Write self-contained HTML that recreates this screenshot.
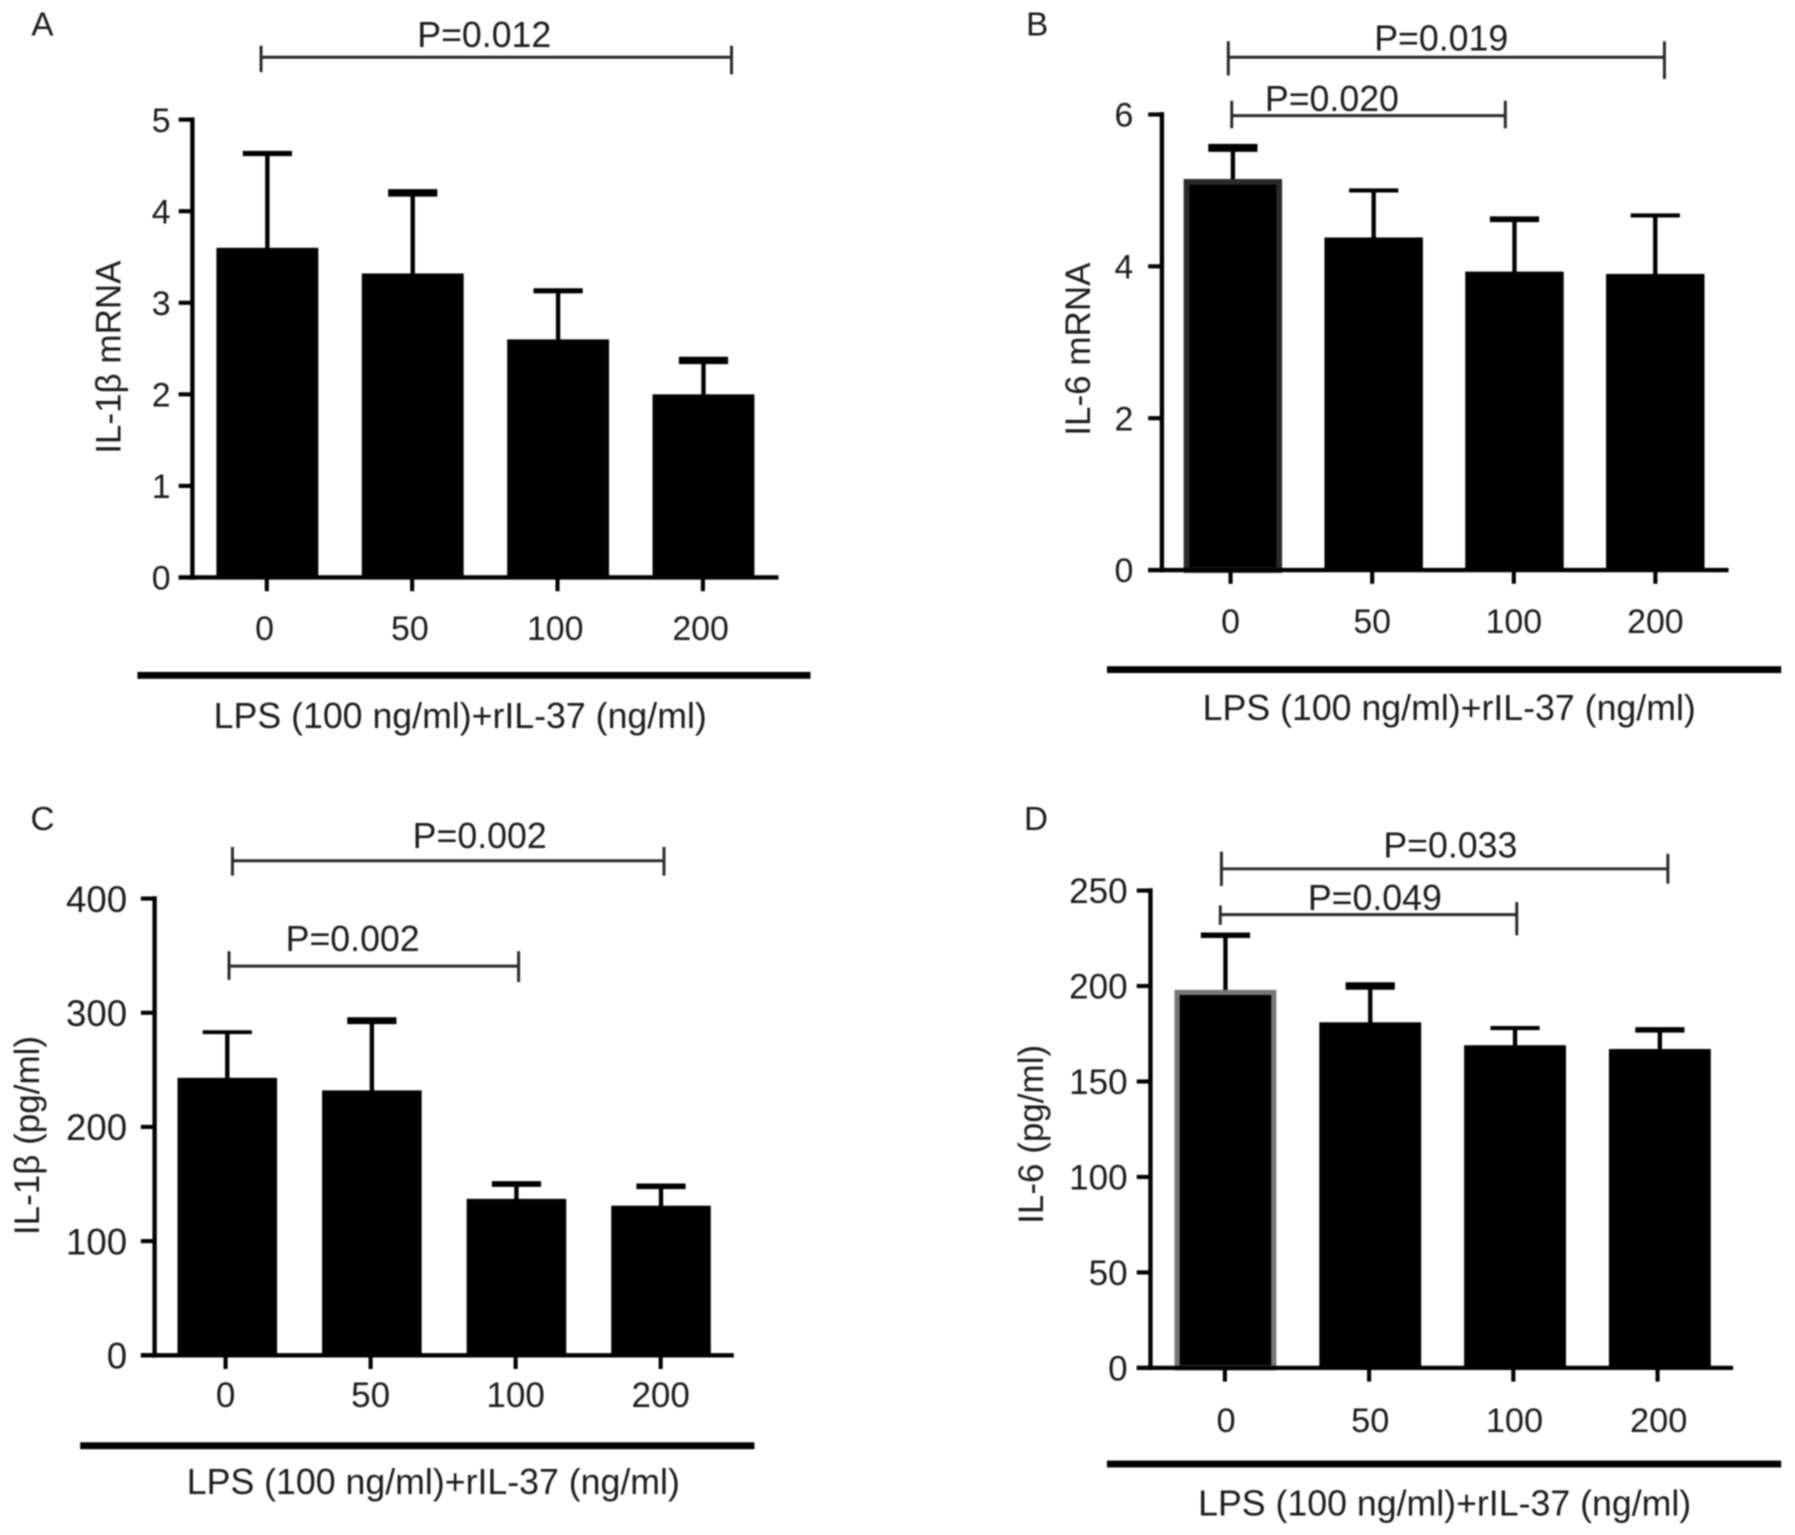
<!DOCTYPE html>
<html lang="en">
<head>
<meta charset="utf-8">
<title>IL-1β and IL-6 expression after LPS and rIL-37 treatment</title>
<style>
html,body{margin:0;padding:0;background:#fff;width:1795px;height:1535px;overflow:hidden}
svg{display:block;filter:blur(.7px)}
text{font-family:"Liberation Sans",sans-serif;fill:#1c1c1c}
.lbl{font-size:31.2px;text-anchor:middle}
.title{font-size:30.6px;text-anchor:middle}
.panel{font-size:29px;text-anchor:middle}
.br{stroke:#2a2a2a;stroke-width:2.6;fill:none}
.rule{fill:#000}
</style>
</head>
<body>
<svg id="figure" xmlns="http://www.w3.org/2000/svg" width="1795" height="1535" viewBox="0 0 1568 1341">
  <rect width="1568" height="1341" fill="#fff"/>

  <g id="panel-a">
    <text class="panel" x="37" y="31">A</text>
    <text class="lbl" x="423" y="41">P=0.012</text>
    <path class="br" d="M228 40V63M228 50H639M639 40V65"/>
    <text class="title" transform="translate(105,312) rotate(-90)">IL-1β mRNA</text>
    <rect class="rule" x="120" y="587" width="588" height="6"/>
    <text class="lbl" x="402" y="636">LPS (100 ng/ml)+rIL-37 (ng/ml)</text>
  </g>

  <g id="panel-b">
    <text class="panel" x="906" y="31">B</text>
    <text class="lbl" x="1259" y="44">P=0.019</text>
    <path class="br" d="M1073 36V66M1073 50H1454M1454 36V69"/>
    <text class="lbl" x="1163.500" y="97">P=0.020</text>
    <path class="br" d="M1076 88V112M1076 101H1315M1315 88V112"/>
    <text class="title" transform="translate(952,305) rotate(-90)">IL-6 mRNA</text>
    <rect class="rule" x="967" y="582" width="589" height="6"/>
    <text class="lbl" x="1266" y="629">LPS (100 ng/ml)+rIL-37 (ng/ml)</text>
  </g>

  <g id="panel-c">
    <text class="panel" x="37" y="725">C</text>
    <text class="lbl" x="419" y="741">P=0.002</text>
    <path class="br" d="M203 740V765M203 752H580M580 740V765"/>
    <text class="lbl" x="308" y="831">P=0.002</text>
    <path class="br" d="M200 831V856M200 844H453M453 831V858"/>
    <text class="title" transform="translate(34,992) rotate(-90)">IL-1β (pg/ml)</text>
    <rect class="rule" x="70" y="1260" width="589" height="6"/>
    <text class="lbl" x="378.500" y="1305">LPS (100 ng/ml)+rIL-37 (ng/ml)</text>
  </g>

  <g id="panel-d">
    <text class="panel" x="905" y="725">D</text>
    <text class="lbl" x="1267" y="749">P=0.033</text>
    <path class="br" d="M1067 744V774M1067 759H1457M1457 746V772"/>
    <text class="lbl" x="1201" y="795">P=0.049</text>
    <path class="br" d="M1066 791V808M1066 799H1325M1325 788V817"/>
    <text class="title" transform="translate(911,991) rotate(-90)">IL-6 (pg/ml)</text>
    <rect class="rule" x="967" y="1276" width="589" height="6"/>
    <text class="lbl" x="1262" y="1324">LPS (100 ng/ml)+rIL-37 (ng/ml)</text>
  </g>
</svg>

<script>
const categories = ["0", "50", "100", "200"];

const valuesA = [3.6, 3.32, 2.6, 2.0];
const errorTopsA = [4.63, 4.2, 3.13, 2.37];
const tickLabelsA = [0, 1, 2, 3, 4, 5];

const valuesB = [5.15, 4.38, 3.93, 3.9];
const errorTopsB = [5.56, 5.0, 4.62, 4.67];
const tickLabelsB = [0, 2, 4, 6];

const valuesC = [243, 232, 137, 131];
const errorTopsC = [283, 293, 150, 148];
const tickLabelsC = [0, 100, 200, 300, 400];

const valuesD = [198, 181, 169, 167];
const errorTopsD = [226.6, 200, 178, 177];
const tickLabelsD = [0, 50, 100, 150, 200, 250];

const NS = "http://www.w3.org/2000/svg";

function mk(parent, tag, attrs, txt) {
  const el = document.createElementNS(NS, tag);
  for (const k in attrs) el.setAttribute(k, attrs[k]);
  if (txt !== undefined) el.textContent = txt;
  parent.appendChild(el);
  return el;
}

function drawPanel(id, values, errorTops, tickLabels, o) {
  const g = document.getElementById("panel-" + id);
  const yMax = tickLabels[tickLabels.length - 1];
  const yScale = v => o.y0 - (v / yMax) * (o.y0 - o.yTop);
  const barX = i => o.bar0 + i * o.barStep;
  const tickX = i => o.tick0 + i * o.tickStep;

  values.forEach((v, i) => {
    const top = yScale(v);
    const err = yScale(errorTops[i]);

    const stem = mk(g, "line", {x1: barX(i), x2: barX(i), y1: err, y2: top + 2, stroke: "#000", "stroke-width": 3.8});
    
    

    const cap = mk(g, "line", {x1: barX(i) - 21.5, x2: barX(i) + 21.5, y1: err, y2: err, stroke: "#000", "stroke-width": o.capWeight(i)});
    
    

    const inset = (i === 0 && o.edge) ? o.edgeW / 2 : 0;
    const bar = mk(g, "rect", {x: barX(i) - o.barW / 2 + inset, y: top + inset, width: o.barW - inset * 2, height: o.y0 - top - inset, fill: "#000"});
    if (inset) {
      bar.setAttribute("stroke", o.edge);
      bar.setAttribute("stroke-width", o.edgeW);
    }
    
    

    const tick = mk(g, "line", {x1: tickX(i), x2: tickX(i), y1: o.y0, y2: o.y0 + 12, stroke: "#000", "stroke-width": 3.6});
    
    

    const lab = mk(g, "text", {x: tickX(i) + o.labelDx, y: o.labelY, "text-anchor": "middle", "font-size": o.xFont}, categories[i]);
    
    
  });

  tickLabels.forEach(t => {
    const y = yScale(t);
    const tick = mk(g, "line", {x1: o.axisX - 12, x2: o.axisX, y1: y, y2: y, stroke: "#000", "stroke-width": 3.6});
    
    

    const lab = mk(g, "text", {x: o.labelX, y: y + o.yFont * 0.36, "text-anchor": "end", "font-size": o.yFont}, String(t));
    
    
  });

  const yAxis = mk(g, "line", {x1: o.axisX, x2: o.axisX, y1: o.yTop - 2, y2: o.y0 + 2, stroke: "#000", "stroke-width": 3.8});
  
  

  const xAxis = mk(g, "line", {x1: o.axisX - 12, x2: o.xEnd, y1: o.y0, y2: o.y0, stroke: "#000", "stroke-width": 3.8});
  
  
}

drawPanel("a", valuesA, errorTopsA, tickLabelsA,
  {axisX: 168, y0: 504.5, yTop: 104.5, xEnd: 680, bar0: 233.5, barStep: 127, barW: 89, tick0: 233, tickStep: 127, labelY: 559, labelX: 149, labelDx: -2, xFont: 29.6, yFont: 29.6,
   capWeight: i => i === 1 || i === 3 ? 6.5 : 4.5});
drawPanel("b", valuesB, errorTopsB, tickLabelsB,
  {axisX: 1015, y0: 498, yTop: 100, xEnd: 1510, bar0: 1077, barStep: 123, barW: 86, tick0: 1075, tickStep: 123.7, labelY: 553, labelX: 990, labelDx: 0, xFont: 29.6, yFont: 29.6, edge: "#2a2a2a", edgeW: 5,
   capWeight: i => i === 0 ? 7 : i === 2 ? 5 : 3.6});
drawPanel("c", valuesC, errorTopsC, tickLabelsC,
  {axisX: 135, y0: 1184, yTop: 785, xEnd: 641, bar0: 198.5, barStep: 126.3, barW: 87, tick0: 197, tickStep: 126.7, labelY: 1229, labelX: 111, labelDx: 0, xFont: 30.6, yFont: 32,
   capWeight: i => i === 0 ? 3.4 : i === 1 ? 6 : 5});
drawPanel("d", valuesD, errorTopsD, tickLabelsD,
  {axisX: 1005, y0: 1195, yTop: 778, xEnd: 1514, bar0: 1070.5, barStep: 126.5, barW: 89, tick0: 1070, tickStep: 126, labelY: 1251, labelX: 985, labelDx: 1, xFont: 30, yFont: 30.6, edge: "#777", edgeW: 4.5,
   capWeight: i => i === 1 ? 6.5 : i === 2 ? 3.6 : 4.8});
</script>
</body>
</html>
